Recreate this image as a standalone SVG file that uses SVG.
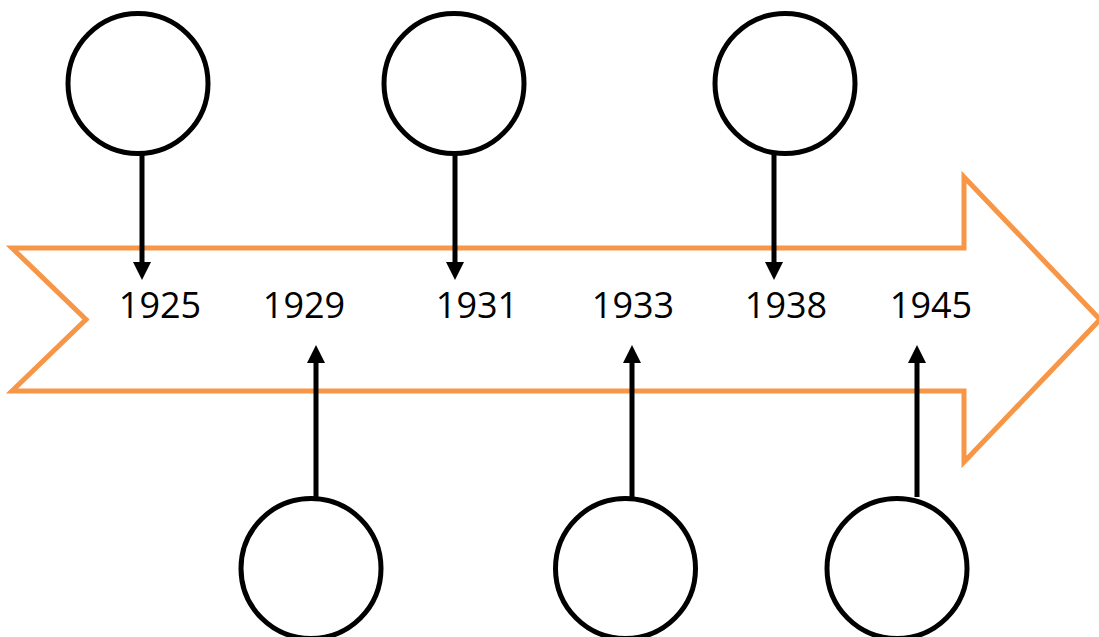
<svg xmlns="http://www.w3.org/2000/svg" width="1099" height="637" viewBox="0 0 1099 637">
<defs>
<style>
.band{fill:#FFFFFF;stroke:#F79646;stroke-width:5;stroke-linejoin:miter;stroke-miterlimit:10}
.node{fill:#FFFFFF;stroke:#000000;stroke-width:5}
.conn{stroke:#000000;stroke-width:5;fill:none}
.head{fill:#000000}
.year{font-family:"Open Sans","Liberation Sans",sans-serif;font-size:36px;fill:#000000;text-anchor:middle}
</style>
</defs>
<rect width="1099" height="637" fill="#FFFFFF"/>
<g id="timeline-arrow">
<polygon class="band" points="12,248 964,248 964,177 1100,319.5 964,462 964,391 12,391 86,319.5"/>
</g>
<g id="labels">
<text class="year" x="160" y="318">1925</text>
<text class="year" x="304" y="318">1929</text>
<text class="year" x="477" y="318">1931</text>
<text class="year" x="633" y="318">1933</text>
<text class="year" x="786" y="318">1938</text>
<text class="year" x="931" y="318">1945</text>
</g>
<g id="connectors">
<line class="conn" x1="142" y1="154" x2="142" y2="264"/>
<polygon class="head" points="133,262 151,262 142,280"/>
<line class="conn" x1="455" y1="154" x2="455" y2="264"/>
<polygon class="head" points="446,262 464,262 455,280"/>
<line class="conn" x1="774" y1="154" x2="774" y2="264"/>
<polygon class="head" points="765,262 783,262 774,280"/>
<line class="conn" x1="316" y1="497" x2="316" y2="361"/>
<polygon class="head" points="307,363 325,363 316,345"/>
<line class="conn" x1="632" y1="497" x2="632" y2="361"/>
<polygon class="head" points="623,363 641,363 632,345"/>
<line class="conn" x1="917" y1="497" x2="917" y2="361"/>
<polygon class="head" points="908,363 926,363 917,345"/>
</g>
<g id="node-1925"><circle class="node" cx="138" cy="83.5" r="70"/></g>
<g id="node-1931"><circle class="node" cx="454" cy="83.5" r="70"/></g>
<g id="node-1938"><circle class="node" cx="785" cy="83.5" r="70"/></g>
<g id="node-1929"><circle class="node" cx="311" cy="568.5" r="70"/></g>
<g id="node-1933"><circle class="node" cx="625.5" cy="568.5" r="70"/></g>
<g id="node-1945"><circle class="node" cx="897" cy="568.5" r="70"/></g>
</svg>
